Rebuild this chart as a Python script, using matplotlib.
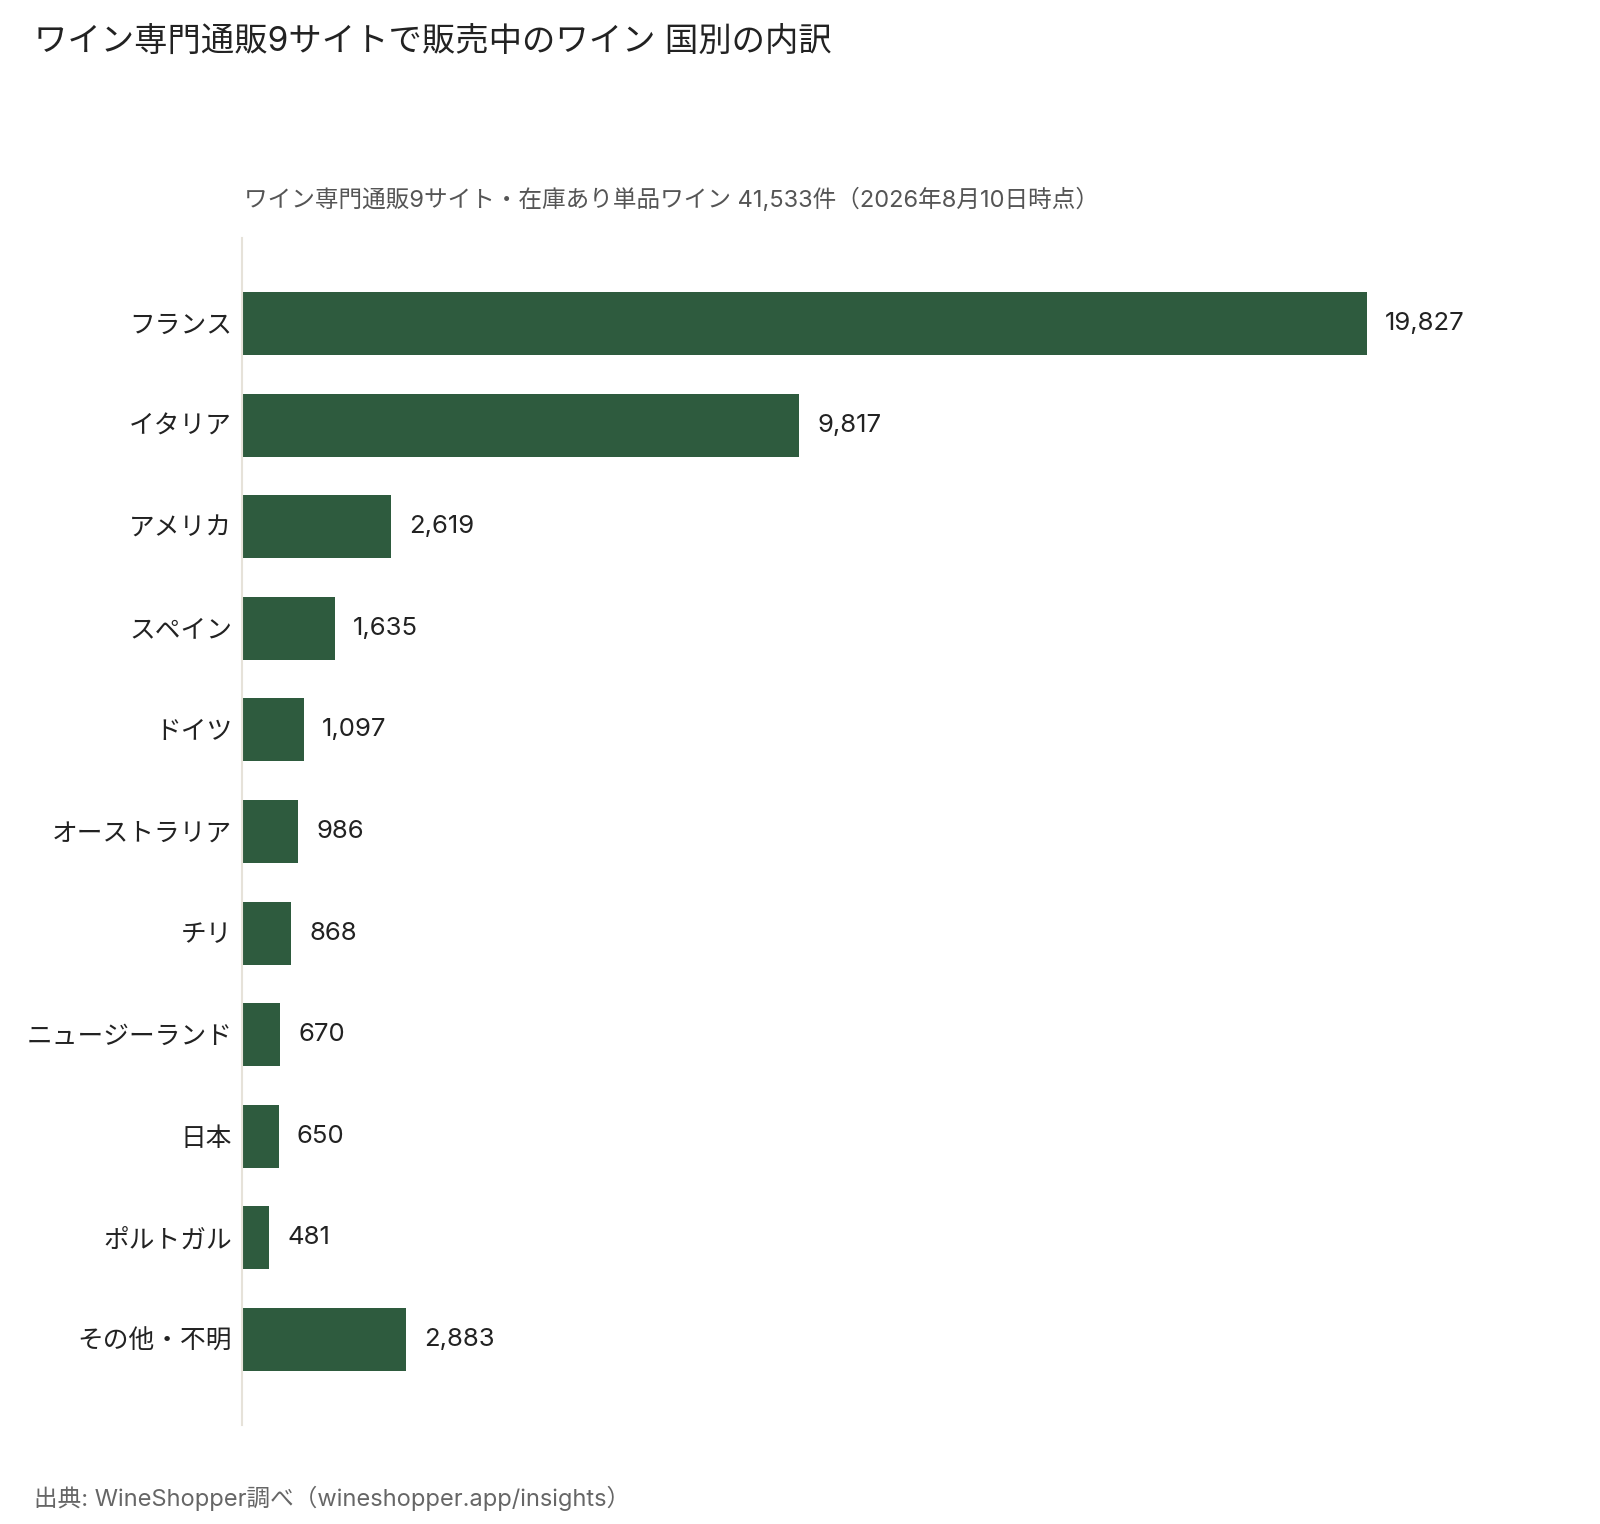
import matplotlib
matplotlib.use("Agg")
import matplotlib.pyplot as plt

# Latin glyphs from Inter, Japanese falls back to Noto CJK
plt.rcParams['font.family'] = ['Inter', 'Noto Sans CJK JP', 'DejaVu Sans']

countries = ['フランス', 'イタリア', 'アメリカ', 'スペイン', 'ドイツ', 'オーストラリア',
             'チリ', 'ニュージーランド', '日本', 'ポルトガル', 'その他・不明']
counts = [19827, 9817, 2619, 1635, 1097, 986, 868, 670, 650, 481, 2883]

title = 'ワイン専門通販9サイトで販売中のワイン 国別の内訳'
subtitle = 'ワイン専門通販9サイト・在庫あり単品ワイン 41,533件（2026年8月10日時点）'
source = '出典: WineShopper調べ（wineshopper.app/insights）'

bar_color = '#2E5B3E'
text_color = '#222222'

fig = plt.figure(figsize=(16, 15.24), dpi=100)
ax = fig.add_axes([0.15125, 0.065, 0.82, 0.7788])

ypos = list(range(len(countries)))
bars = ax.barh(ypos, counts, height=0.62, color=bar_color)
ax.bar_label(bars, labels=['{:,}'.format(c) for c in counts], padding=13,
             fontsize=18.5, color=text_color)

ax.set_ylim(len(countries) - 1 + 0.84, -0.84)
ax.set_xlim(0, 23120)
ax.set_yticks(ypos)
ax.set_yticklabels(countries, fontsize=18.5, color=text_color)
ax.tick_params(axis='y', length=0, pad=7)
ax.set_xticks([])

for s in ['top', 'right', 'bottom']:
    ax.spines[s].set_visible(False)
ax.spines['left'].set_color('#E6E2D9')
ax.spines['left'].set_linewidth(1.5)

fig.text(34 / 1600, 1 - 42 / 1524, title, fontsize=24, color=text_color, va='center')
fig.text(244 / 1600, 1 - 200 / 1524, subtitle, fontsize=17, color='#555555', va='center')
fig.text(34 / 1600, 1 - 1498 / 1524, source, fontsize=17, color='#666666', va='center')

fig.savefig('out.png', dpi=100, facecolor='white')
